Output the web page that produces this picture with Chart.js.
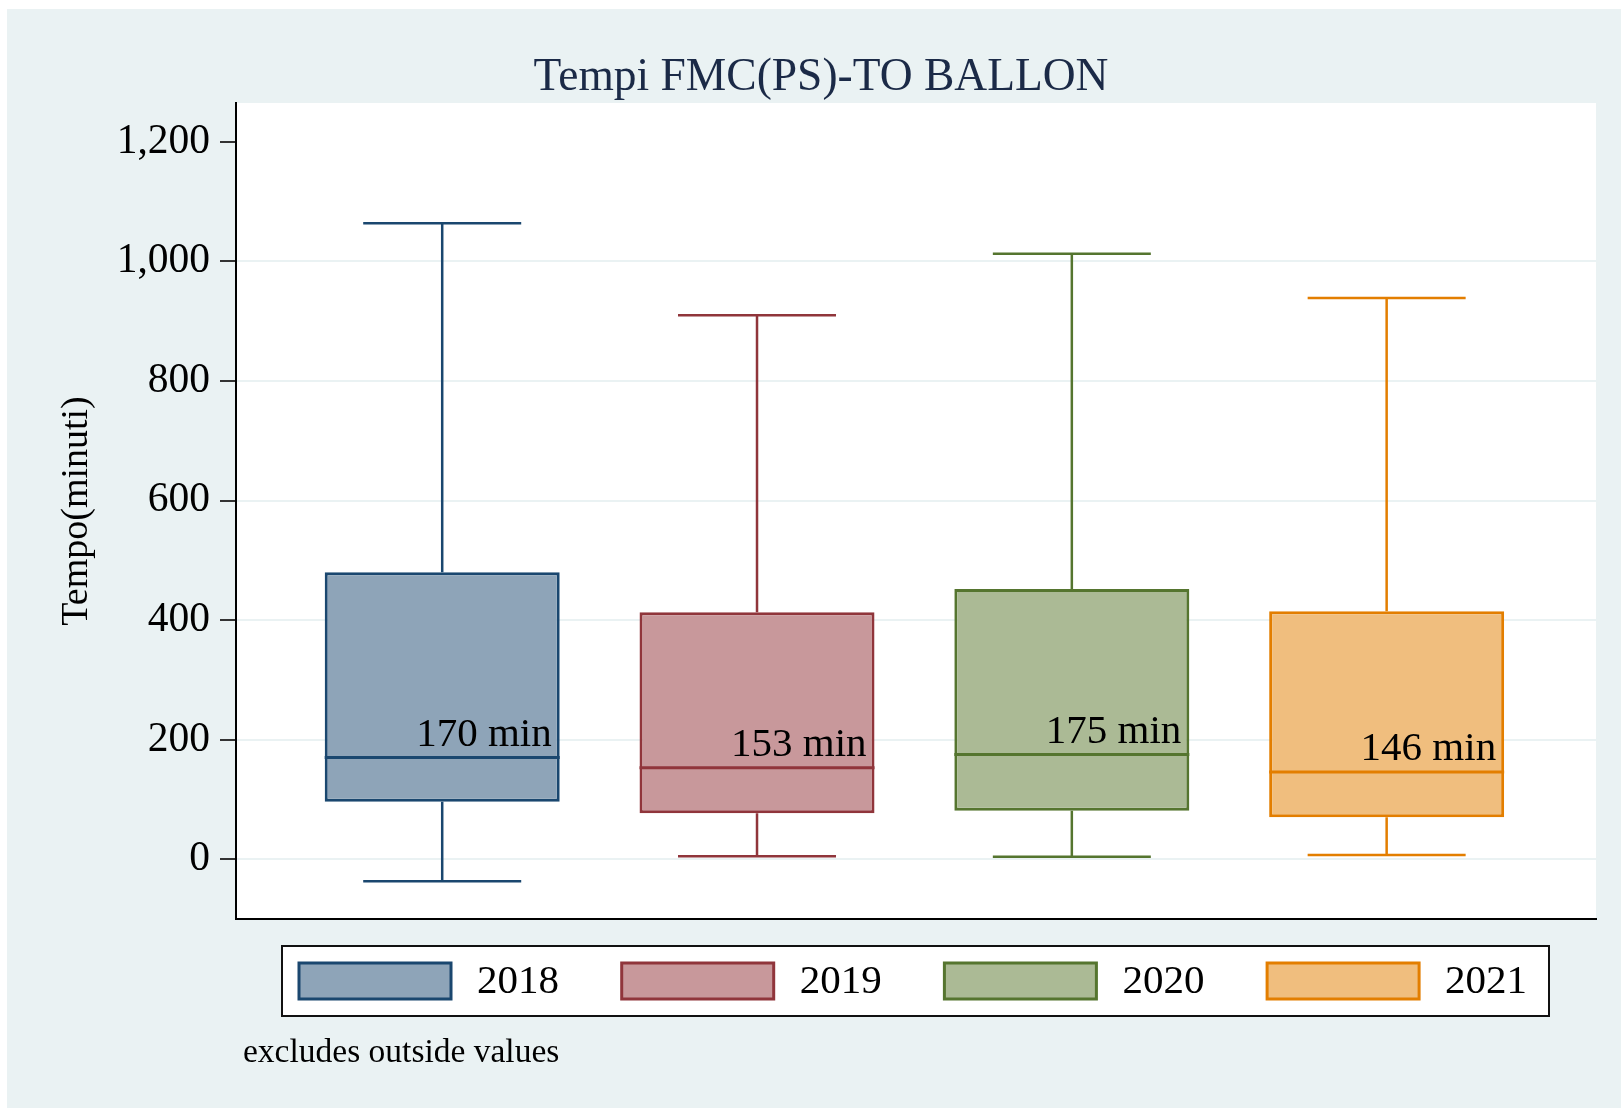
<!DOCTYPE html>
<html>
<head>
<meta charset="utf-8">
<title>Tempi FMC(PS)-TO BALLON</title>
<script src="https://cdn.jsdelivr.net/npm/chart.js@4.4.1/dist/chart.umd.min.js"></script>
<style>
  html, body { margin: 0; padding: 0; background: #fff; }
  #wrap { width: 1621px; height: 1108px; position: relative; }
</style>
</head>
<body>
<div id="wrap"><canvas id="boxChart"></canvas></div>
<script>
// box plot values (minutes)
const years = ['2018', '2019', '2020', '2021'];
const lowerWhisker = [-37, 5, 4, 7];
const q1 = [96, 77, 81, 70];
const median = [170, 153, 175, 146];
const q3 = [480, 413, 452, 415];
const upperWhisker = [1064, 910, 1013, 939];
const medianLabels = ['170 min', '153 min', '175 min', '146 min'];
const yTicks = [0, 200, 400, 600, 800, 1000, 1200];

const chartTitle = 'Tempi FMC(PS)-TO BALLON';
const lineColors = ['#1a476f', '#90353b', '#55752f', '#e37e00'];
const fillColors = ['#8ea4b8', '#c8989b', '#abba95', '#f0be7e'];
const bgColor = '#eaf2f3';
const serif = "'Liberation Serif', 'Times New Roman', serif";

// background, title, whiskers, medians, median labels, legend and note
const boxExtras = {
  id: 'boxExtras',
  beforeDraw(chart) {
    const { ctx, width, height, chartArea } = chart;
    ctx.save();
    ctx.fillStyle = '#fff';
    ctx.fillRect(0, 0, width, height);
    ctx.fillStyle = bgColor;
    ctx.fillRect(7, 9, width - 7, height - 9);
    ctx.fillStyle = '#fff';
    ctx.fillRect(chartArea.left, chartArea.top, chartArea.right - chartArea.left, chartArea.bottom - chartArea.top);
    // graph title, centred on the graph region as Stata does
    ctx.fillStyle = '#1b2a47';
    ctx.font = '45.5px ' + serif;
    ctx.textAlign = 'center';
    ctx.textBaseline = 'middle';
    ctx.fillText(chartTitle, 821, 78);
    ctx.restore();
  },
  afterDatasetsDraw(chart) {
    const { ctx, scales: { x, y } } = chart;
    ctx.save();
    years.forEach((yr, i) => {
      const bar = chart.getDatasetMeta(i).data[0];
      const cx = x.getPixelForValue(i + 1);
      const half = bar.width / 2;
      const capHalf = 79;
      ctx.strokeStyle = lineColors[i];
      ctx.lineWidth = 2.5;
      ctx.beginPath();
      ctx.moveTo(cx, y.getPixelForValue(q3[i]));
      ctx.lineTo(cx, y.getPixelForValue(upperWhisker[i]));
      ctx.moveTo(cx - capHalf, y.getPixelForValue(upperWhisker[i]));
      ctx.lineTo(cx + capHalf, y.getPixelForValue(upperWhisker[i]));
      ctx.moveTo(cx, y.getPixelForValue(q1[i]));
      ctx.lineTo(cx, y.getPixelForValue(lowerWhisker[i]));
      ctx.moveTo(cx - capHalf, y.getPixelForValue(lowerWhisker[i]));
      ctx.lineTo(cx + capHalf, y.getPixelForValue(lowerWhisker[i]));
      ctx.stroke();

      const my = y.getPixelForValue(median[i]);
      ctx.lineWidth = 3;
      ctx.beginPath();
      ctx.moveTo(cx - half, my);
      ctx.lineTo(cx + half, my);
      ctx.stroke();

      ctx.fillStyle = '#000';
      ctx.font = '41px ' + serif;
      ctx.textAlign = 'right';
      ctx.textBaseline = 'alphabetic';
      ctx.fillText(medianLabels[i], cx + half - 8, my - 12);
    });
    ctx.restore();
  },
  afterDraw(chart) {
    const ctx = chart.ctx;
    ctx.save();
    // legend frame
    ctx.fillStyle = '#fff';
    ctx.fillRect(282, 946, 1267, 70);
    ctx.strokeStyle = '#111';
    ctx.lineWidth = 2;
    ctx.strokeRect(282, 946, 1267, 70);
    ctx.font = '41px ' + serif;
    ctx.textAlign = 'left';
    ctx.textBaseline = 'middle';
    years.forEach((yr, i) => {
      const bx = 299 + i * 322.7;
      ctx.fillStyle = fillColors[i];
      ctx.fillRect(bx, 963, 152, 36);
      ctx.strokeStyle = lineColors[i];
      ctx.lineWidth = 3;
      ctx.strokeRect(bx, 963, 152, 36);
      ctx.fillStyle = '#000';
      ctx.fillText(yr, bx + 152 + 26, 982);
    });
    // note under the legend
    ctx.font = '33.5px ' + serif;
    ctx.textBaseline = 'alphabetic';
    ctx.fillText('excludes outside values', 243, 1062);
    ctx.restore();
  }
};

const ctx = document.getElementById('boxChart').getContext('2d');

new Chart(ctx, {
  type: 'bar',
  data: {
    datasets: years.map((yr, i) => ({
      label: yr,
      data: [{ x: i + 1, y: [q1[i], q3[i]] }],
      backgroundColor: fillColors[i],
      borderColor: lineColors[i],
      borderWidth: 3,
      borderSkipped: false,
      inflateAmount: 0,
      barThickness: 235,
      grouped: false
    }))
  },
  options: {
    responsive: true,
    maintainAspectRatio: false,
    animation: false,
    layout: { padding: { left: 0, right: 25, top: 103, bottom: 189 } },
    plugins: {
      legend: { display: false },
      tooltip: { enabled: false },
      title: { display: false }
    },
    scales: {
      x: {
        type: 'linear',
        min: 0.345,
        max: 4.665,
        offset: false,
        grid: { display: false, drawTicks: false },
        ticks: { display: false },
        border: { display: true, color: '#000', width: 2 },
        afterFit: s => { s.height = 0; }
      },
      y: {
        min: -100,
        max: 1265,
        afterBuildTicks: s => { s.ticks = yTicks.map(v => ({ value: v })); },
        afterFit: s => { s.width = 236; },
        ticks: {
          color: '#000',
          font: { family: serif, size: 41.5 },
          padding: 10,
          callback: v => v.toLocaleString('en-US')
        },
        grid: {
          color: c => (c.tick && c.tick.value === 1200) ? 'rgba(0,0,0,0)' : bgColor,
          lineWidth: 2,
          tickColor: '#333',
          tickWidth: 2,
          tickLength: 16
        },
        border: { display: true, color: '#000', width: 2 },
        title: {
          display: true,
          text: 'Tempo(minuti)',
          color: '#000',
          font: { family: serif, size: 38 },
          padding: { top: 54, bottom: 0 }
        }
      }
    }
  },
  plugins: [boxExtras]
});
</script>
</body>
</html>
